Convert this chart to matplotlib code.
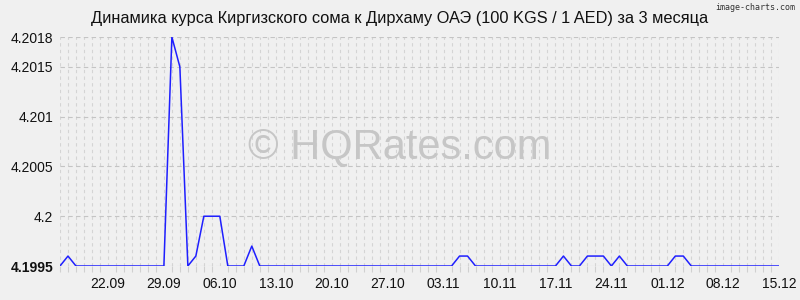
import numpy as np
import pandas as pd
import matplotlib
matplotlib.use("Agg")
import matplotlib.pyplot as plt
import matplotlib.dates as mdates

plt.rcParams['font.family'] = ['Liberation Sans', 'DejaVu Sans']

# daily rate, 16.09 .. 15.12
dates = pd.date_range("2023-09-16", "2023-12-15", freq="D")
rates = [4.1995] * len(dates)
# days that differ from the base level (day index -> value)
changes = {
    1: 4.1996,
    14: 4.2018, 15: 4.2015,
    17: 4.1996, 18: 4.2000, 19: 4.2000, 20: 4.2000,
    24: 4.1997,
    50: 4.1996, 51: 4.1996,
    63: 4.1996,
    66: 4.1996, 67: 4.1996, 68: 4.1996,
    70: 4.1996,
    77: 4.1996, 78: 4.1996,
}
for i, v in changes.items():
    rates[i] = v

yticks = [4.1995, 4.2, 4.2005, 4.201, 4.2015, 4.2018]
ytick_labels = ["4.1995", "4.2", "4.2005", "4.201", "4.2015", "4.2018"]
xtick_dates = pd.date_range("2023-09-22", "2023-12-15", freq="7D")

title = "Динамика курса Киргизского сома к Дирхаму ОАЭ (100 KGS / 1 AED) за 3 месяца"

bg = "#f0f0f0"
fig = plt.figure(figsize=(8, 3), dpi=100, facecolor=bg)
ax = fig.add_axes([0.075, 0.1133, 0.899, 0.7633], facecolor=bg)

ax.plot(dates, rates, color="#1f1fff", lw=1.1, zorder=3)

ax.set_xlim(dates[0], dates[-1])
ax.set_ylim(yticks[0], yticks[-1])

ax.set_yticks(yticks)
ax.set_yticklabels(ytick_labels)
ax.get_yticklabels()[0].set_fontweight("bold")
ax.set_xticks(xtick_dates)
ax.xaxis.set_major_formatter(mdates.DateFormatter("%d.%m"))
ax.set_xticks(dates, minor=True)

ax.tick_params(axis="y", length=0, pad=5, labelsize=10, labelcolor="#111111")
ax.tick_params(axis="x", which="major", length=0, pad=8, labelsize=10, labelcolor="#111111")
ax.tick_params(axis="x", which="minor", length=4, color="#d0d0d0", width=0.8)

ax.grid(True, axis="x", which="both", color="#d4d4d4", linestyle=(0, (3, 3)), lw=0.8)
ax.grid(True, axis="y", which="major", color="#c4c4c4", linestyle=(0, (4, 3)), lw=0.8)
for s in ax.spines.values():
    s.set_visible(False)

fig.text(0.5, 0.94, title, ha="center", va="center", fontsize=11.8, color="#111111")
fig.text(0.994, 0.99, "image-charts.com", ha="right", va="top", fontsize=6,
         color="#333333", family="DejaVu Sans Mono")
fig.text(0.5, 0.51, "© HQRates.com", ha="center", va="center",
         fontsize=30, color="#c6c6c6", zorder=1)

fig.savefig("out.png", dpi=100, facecolor=bg)
